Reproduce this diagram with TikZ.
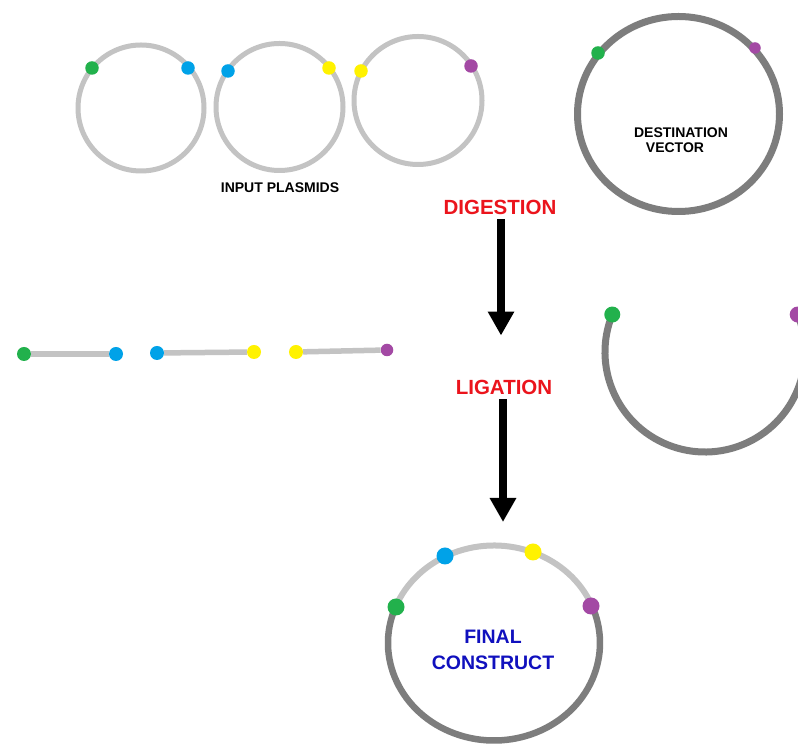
\documentclass[tikz,border=0pt]{standalone}
\usepackage{fontspec}
\setmainfont{Liberation Sans}
\usetikzlibrary{arrows.meta}
\definecolor{lgray}{RGB}{195,195,195}
\definecolor{dgray}{RGB}{125,125,125}
\definecolor{pgreen}{RGB}{34,177,76}
\definecolor{pblue}{RGB}{0,162,232}
\definecolor{pyellow}{RGB}{255,242,0}
\definecolor{ppurple}{RGB}{163,73,164}
\definecolor{tred}{RGB}{235,20,28}
\definecolor{tblue}{RGB}{16,16,190}
\begin{document}
\begin{tikzpicture}[x=1pt,y=1pt,
  dot/.style={circle,inner sep=0pt,minimum size=#1},
  dot/.default=13.5pt,
  ring/.style={draw=lgray,line width=5pt},
  dring/.style={draw=dgray,line width=7pt},
  frag/.style={draw=lgray,line width=5.5pt},
  lbl/.style={font=\bfseries\fontsize{14}{16}\selectfont,text=black,inner sep=0pt,align=center},
  step lbl/.style={font=\bfseries\fontsize{20.5}{24}\selectfont,text=tred,inner sep=0pt},
  bigarrow/.style={line width=7.5pt,-{Triangle[length=24pt,width=25pt]}}]
\useasboundingbox (0,0) rectangle (798,744);
\fill[white] (0,0) rectangle (798,744);

% input plasmids
\draw[ring] (141,636) circle [radius=63];
\draw[ring] (279.5,637) circle [radius=63.5];
\draw[ring] (418,643.5) circle [radius=64];
\node[dot,fill=pgreen] (c1g) at (92,676) {};
\node[dot,fill=pblue] (c1b) at (188,676) {};
\node[dot,fill=pblue] (c2b) at (228,673) {};
\node[dot,fill=pyellow] (c2y) at (329,676) {};
\node[dot,fill=pyellow] (c3y) at (361,673) {};
\node[dot,fill=ppurple] (c3p) at (471,678) {};
\node[lbl] (inp) at (280,556) {INPUT PLASMIDS};

% destination vector
\draw[dring] (678.5,630) ellipse [x radius=101,y radius=97.5];
\node[dot,fill=pgreen] (dvg) at (598,691) {};
\node[dot=11.5pt,fill=ppurple] (dvp) at (755,696) {};
\node[lbl] (dv) at (681,604) {DESTINATION\\[-1pt]\hspace*{-12pt}VECTOR};

% digestion / ligation
\node[step lbl] (dig) at (500,537) {DIGESTION};
\node[step lbl] (lig) at (504,357) {LIGATION};
\coordinate (fctop) at (494,204);
\draw[bigarrow,shorten <=5pt] ([xshift=1pt]dig.south) -- ([xshift=1pt,yshift=44pt]dig.south |- lig.north);
\draw[bigarrow,shorten <=5pt] ([xshift=-1pt]lig.south) -- ([xshift=-1pt,yshift=18pt]lig.south |- fctop);

% fragments
\node[dot=14pt,fill=pgreen] (f1a) at (24,390) {};
\node[dot=14pt,fill=pblue] (f1b) at (116,390) {};
\node[dot=14pt,fill=pblue] (f2a) at (157,391) {};
\node[dot=14pt,fill=pyellow] (f2b) at (254,392) {};
\node[dot=14pt,fill=pyellow] (f3a) at (296,392) {};
\node[dot=12.5pt,fill=ppurple] (f3b) at (387,394) {};
\draw[frag] (f1a) -- (f1b);
\draw[frag] (f2a) -- (f2b);
\draw[frag] (f3a) -- (f3b);

% opened vector
\coordinate (ovc) at (705,392);
\draw[dring] ([shift={(158:100)}]ovc) arc [start angle=158,end angle=382,radius=100];
\node[dot=16pt,fill=pgreen] (ovg) at ([shift={(158:100)}]ovc) {};
\node[dot=16pt,fill=ppurple] (ovp) at ([shift={(22:100)}]ovc) {};

% final construct
\coordinate (fcc) at (494,101);
\draw[draw=lgray,line width=6pt] ([shift={(22.5:106 and 97.5)}]fcc) arc [start angle=22.5,end angle=158.3,x radius=106,y radius=97.5];
\draw[draw=dgray,line width=6.5pt] ([shift={(158.3:106 and 97.5)}]fcc) arc [start angle=158.3,end angle=382.5,x radius=106,y radius=97.5];
\node[dot=17pt,fill=pgreen] (fcg) at (396,137) {};
\node[dot=17pt,fill=pblue] (fcb) at (445,188) {};
\node[dot=17pt,fill=pyellow] (fcy) at (533,192) {};
\node[dot=17pt,fill=ppurple] (fcp) at (591,138) {};
\node[font=\bfseries\fontsize{19.5}{26}\selectfont,text=tblue,align=center,inner sep=0pt] (fc) at (493,94) {FINAL\\CONSTRUCT};
\end{tikzpicture}
\end{document}
